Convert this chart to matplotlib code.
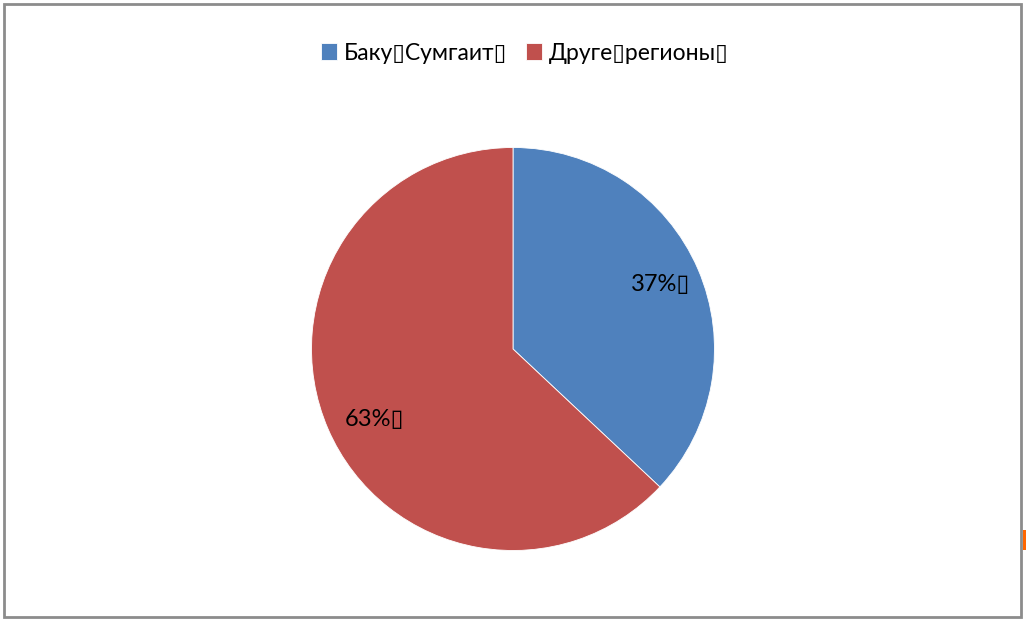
import matplotlib
matplotlib.use("Agg")
import matplotlib.pyplot as plt
from matplotlib.patches import Rectangle

plt.rcParams['font.family'] = ['Lato', 'DejaVu Sans']

BOX = "\u25AF"
categories = ["Баку" + BOX + "Сумгаит" + BOX, "Друге" + BOX + "регионы" + BOX]
values = [37, 63]
colors = ["#4F81BD", "#C0504D"]

W, H = 1026, 620
fig = plt.figure(figsize=(W / 100, H / 100), dpi=100)

cx, cy, r = 513, 349, 201.5
ax = fig.add_axes([(cx - r) / W, (H - cy - r) / H, 2 * r / W, 2 * r / H])
wedges, texts, autotexts = ax.pie(
    values, colors=colors, startangle=90, counterclock=False,
    autopct=lambda p: f"{p:.0f}%" + BOX, pctdistance=0.80,
    wedgeprops=dict(edgecolor="white", linewidth=0.6),
    textprops=dict(fontsize=17, color="black"))
# nudge the larger slice's label to where the reference shows it
autotexts[1].set_position((-0.685, -0.35))
ax.set_xlim(-1, 1)
ax.set_ylim(-1, 1)
ax.set_aspect('equal')
ax.axis('off')

fig.legend(wedges, categories, loc='center', bbox_to_anchor=(525 / W, 1 - 53 / H),
           ncol=2, frameon=False, fontsize=16.5, handlelength=0.7, handleheight=0.7,
           handletextpad=0.3, columnspacing=0.8)

# chart frame
fig.patches.append(Rectangle((4 / W, 3 / H), (1021 - 4) / W, (616 - 3) / H,
                             transform=fig.transFigure, fill=False,
                             edgecolor="#8c8c8c", linewidth=2))
# small orange mark at right edge
fig.patches.append(Rectangle((1023 / W, (H - 550) / H), 3 / W, 20 / H,
                             transform=fig.transFigure, facecolor="#FF6600",
                             edgecolor="none"))

fig.savefig("out.png", dpi=100)
